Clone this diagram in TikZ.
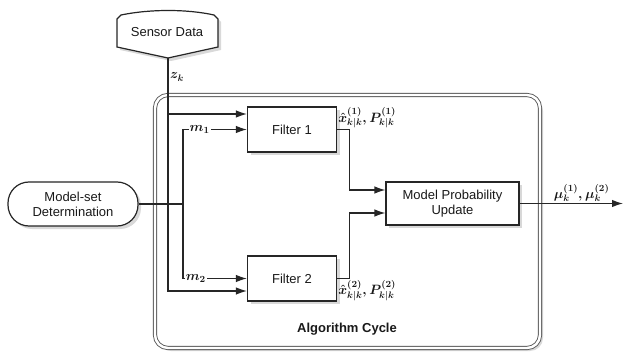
\RequirePackage{fix-cm}
\documentclass[tikz,border=0pt]{standalone}
\usepackage{fontspec}
\setsansfont{Liberation Sans}
\usetikzlibrary{positioning,arrows.meta,shadows,calc}

\begin{document}
\begin{tikzpicture}[x=1pt,y=-1pt,
    every node/.style={font=\sffamily\fontsize{13}{15}\selectfont, text=black!90},
    softshadow/.style={drop shadow={shadow xshift=3pt, shadow yshift=-3pt, opacity=0.3}},
    block/.style={draw=black!85, line width=1.2pt, fill=white, minimum width=89pt, minimum height=45pt, softshadow},
    cyclebox/.style={draw=black!65, double=white, double distance=2.4pt, line width=0.9pt, fill=white, rounded corners=13pt, minimum width=385pt, minimum height=253pt, inner sep=0pt, softshadow},
    link/.style={draw=black!85, line width=1.2pt},
    arr/.style={link, -{Latex[length=11pt,width=7.5pt]}},
    mathlbl/.style={font=\fontsize{13.5}{16}\selectfont\boldmath, inner sep=1pt},
  ]
  \useasboundingbox (0,0) rectangle (625,353);

  % algorithm cycle frame
  \node[cyclebox] (cycle) at (347.5,221.5) {};
  \node[font=\sffamily\bfseries\fontsize{13}{15}\selectfont] (cyclelbl) at (347,329) {Algorithm Cycle};

  % sensor input
  \coordinate (ztip) at (168,58);
  \path[draw=black!85, line width=1.2pt, fill=white, softshadow]
    (117,47) -- (117,19) -- (121,15) .. controls (150,9) and (187,9) .. (214,15) -- (218,19) -- (218,47) -- (ztip) -- cycle;
  \node (sensor) at (167,32) {Sensor Data};

  % blocks
  \node[block] (filt1) at (292,129.5) {Filter 1};
  \node[block] (filt2) at (292,278.5) {Filter 2};
  \node[block, minimum width=133pt, minimum height=43pt, align=center] (mpu) at (452.5,203.5) {Model Probability\\Update};
  \node[block, rounded corners=21pt, minimum width=130pt, minimum height=44pt, align=center] (mset) at (73,204) {Model-set\\Determination};

  % measurement z_k
  \draw[arr] (ztip) |- ($(filt1.west)+(0,-15.5)$);
  \draw[arr] (ztip) |- ($(filt2.west)+(0,12.5)$);
  \node[mathlbl, right] (zlbl) at ($(ztip)+(1,19)$) {$z_k$};

  % model sets
  \coordinate (mjoin) at (183,204);
  \draw[link] (mset.east) -- (mjoin);
  \draw[arr] (mjoin) |- node[mathlbl, fill=white, pos=0.63] {$m_1$} (filt1.west);
  \draw[arr] (mjoin) |- node[mathlbl, fill=white, pos=0.6] {$m_2$} (filt2.west);

  % filter outputs
  \draw[arr] (filt1.east) -- ++(12,0) |- ($(mpu.west)+(0,-13.5)$);
  \draw[arr] (filt2.east) -- ++(12,0) |- ($(mpu.west)+(0,9.5)$);
  \node[mathlbl, anchor=south west] (est1) at ($(filt1.east)+(0,0)$) {$\hat{x}^{(1)}_{k|k},P^{(1)}_{k|k}$};
  \node[mathlbl, anchor=north west] (est2) at ($(filt2.east)+(0,1)$) {$\hat{x}^{(2)}_{k|k},P^{(2)}_{k|k}$};

  % model probabilities out
  \coordinate (muout) at (623,203.5);
  \draw[arr] (mpu.east) -- node[mathlbl, above, pos=0.6] (mulbl) {$\mu^{(1)}_k,\mu^{(2)}_k$} (muout);
\end{tikzpicture}
\end{document}
